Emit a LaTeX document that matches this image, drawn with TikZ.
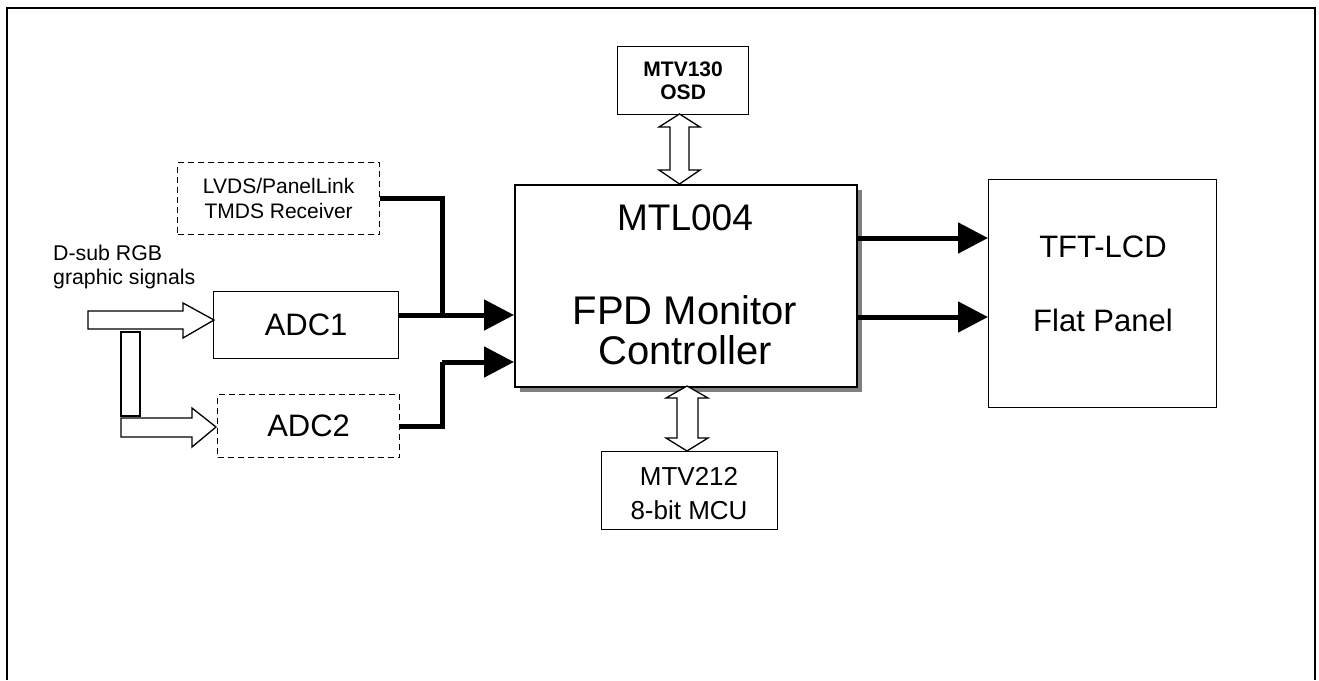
\documentclass[tikz,border=0pt]{standalone}
\usepackage{fontspec}
\setmainfont{Liberation Sans}
\usetikzlibrary{arrows.meta,calc}
\begin{document}
\begin{tikzpicture}[x=1pt,y=-1pt,
  blk/.style={draw,line width=1.3pt,anchor=north west,inner sep=0pt,fill=white},
  dblk/.style={blk,dash pattern=on 6pt off 4pt},
  txt/.style={inner sep=0pt,align=center},
  bus/.style={line width=5pt},
  busarrow/.style={line width=5pt,-{Triangle[length=30pt,width=30pt]}},
  hollow/.style={draw,line width=1.3pt,fill=white,line join=miter},
  shadowc/.style={fill=black!50,draw=none}
]
\useasboundingbox (0,0) rectangle (1319,680);
% outer frame
\draw[line width=1.6pt] (7,680) -- (7,8) -- (1315,8) -- (1315,680);

% main controller with shadow
\fill[shadowc] (520,190) rectangle (862,392);
\node[blk,line width=2.2pt,minimum width=342pt,minimum height=202pt] (mtl) at (514,184) {};
\node[txt,font=\fontsize{37}{40}\selectfont] (mtlt) at (685,218) {MTL004};
\node[txt,font=\fontsize{40}{40}\selectfont] (mtlf) at (685,310) {FPD Monitor};
\node[txt,font=\fontsize{40}{40}\selectfont] (mtlc) at (685,350) {Controller};

% other blocks
\node[blk,minimum width=185pt,minimum height=67pt] (adc1) at (213,291) {};
\node[txt,font=\fontsize{31}{36}\selectfont] at (adc1.center) {ADC1};
\node[dblk,minimum width=182pt,minimum height=63pt] (adc2) at (217,394) {};
\node[txt,font=\fontsize{31}{36}\selectfont] at (adc2.center) {ADC2};
\node[dblk,minimum width=202pt,minimum height=72pt] (lvds) at (177,162) {};
\node[txt,font=\fontsize{21}{25}\selectfont] at (lvds.center) {LVDS/PanelLink\\TMDS Receiver};
\node[blk,minimum width=131pt,minimum height=68pt] (osd) at (617,46) {};
\node[txt,font=\fontsize{21}{23}\selectfont\bfseries] at (osd.center) {MTV130\\OSD};
\node[blk,minimum width=176pt,minimum height=78pt] (mcu) at (601,451) {};
\node[txt,font=\fontsize{26}{34}\selectfont] at (689,494) {MTV212\\8-bit MCU};
\node[blk,minimum width=228pt,minimum height=228pt] (tft) at (988,179) {};
\node[txt,font=\fontsize{31}{36}\selectfont] (tftt) at (1103,247) {TFT-LCD};
\node[txt,font=\fontsize{31}{36}\selectfont] (tftf) at (1103,320) {Flat Panel};

\node[txt,anchor=west,align=left,font=\fontsize{21.3}{24}\selectfont] (dsub) at (53,267) {D-sub RGB\\graphic signals};

% junction coordinates
\coordinate (j1) at (442,315);
\coordinate (j2) at (442,362);

% thick buses
\draw[bus] (lvds.east) -- (lvds.east -| j1) -- (j1);
\draw[busarrow] (adc1.east |- j1) -- (mtl.west |- j1);
\draw[bus] (adc2.east) -- (adc2.east -| j2) -- (j2);
\draw[busarrow] (j2) -- (mtl.west |- j2);
\draw[busarrow] (mtl.east |- 0,238) -- (tft.west |- 0,238);
\draw[busarrow] (mtl.east |- 0,317) -- (tft.west |- 0,317);

% hollow input arrows
\draw[hollow] (88,311) -- (183,311) -- (183,303) -- (214,320) -- (183,338) -- (183,329) -- (88,329) -- cycle;
\draw[hollow] (121,332) rectangle (140,416);
\draw[hollow] (121,418) -- (192,418) -- (192,408) -- (216,427) -- (192,447) -- (192,437) -- (121,437) -- cycle;

% double arrows
\draw[hollow] (679.5,114) -- (700,127) -- (689,127) -- (689,170) -- (700,170) -- (679.5,184) -- (659,170) -- (670,170) -- (670,127) -- (659,127) -- cycle;
\draw[hollow] (687,386) -- (708,398) -- (698,398) -- (698,438) -- (708,438) -- (687,451) -- (666,438) -- (677,438) -- (677,398) -- (666,398) -- cycle;
\end{tikzpicture}
\end{document}
